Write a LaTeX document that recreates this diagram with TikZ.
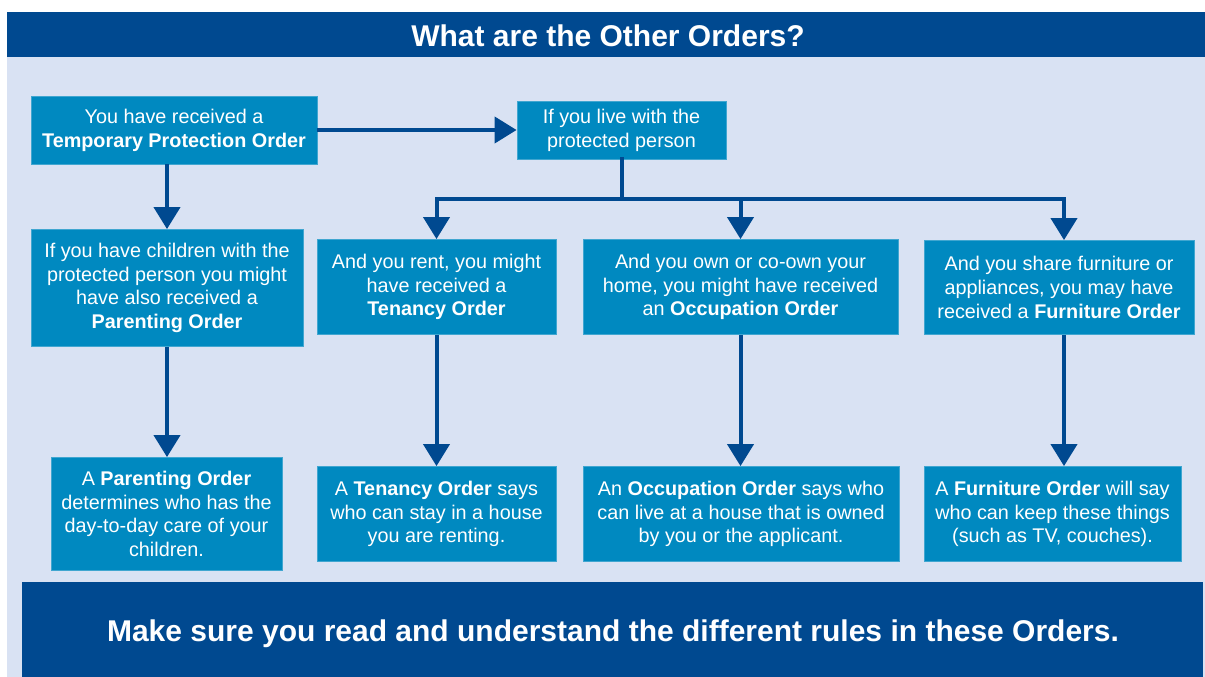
\documentclass[tikz,border=0pt]{standalone}
\usepackage{fontspec}
\setmainfont{Liberation Sans}
\usepackage{tikz}
\usetikzlibrary{positioning,arrows.meta,calc}
\definecolor{navy}{RGB}{0,73,144}
\definecolor{boxblue}{RGB}{0,137,192}
\definecolor{panel}{RGB}{217,226,243}
\tikzset{
  orderbox/.style={fill=boxblue, draw=boxblue!75!white, line width=0.8pt, text=white,
    align=center, inner sep=0pt, font=\fontsize{19.8}{23.8}\selectfont},
  flow/.style={draw=navy, line width=4pt, -{Triangle[width=26pt,length=22pt]}},
  banner/.style={text=white, font=\fontsize{30}{36}\selectfont\bfseries}
}

\begin{document}
\begin{tikzpicture}[x=1pt, y=-1pt]
    \useasboundingbox (0,0) rectangle (1205,677);
    \fill[panel] (7,57) rectangle (1205,677);
    \fill[navy] (7,12) rectangle (1205,57);
    \fill[navy] (22,582) rectangle (1203,677);
    \node[banner] (title) at (608,36) {What are the Other Orders?};
    \node[banner] (remind) at (613,634) {Make sure you read and understand the different rules in these Orders.};

    % first row
    \node[orderbox, minimum width=286pt, minimum height=68pt] (tpo) at (174,130)
      {You have received a\\\textbf{Temporary Protection Order}};
    \node[orderbox, minimum width=209pt, minimum height=58pt] (live) at (621.5,130)
      {If you live with the\\protected person};
    \coordinate[below=40pt of live.south] (split);

    % second row
    \node[orderbox, minimum width=272pt, minimum height=117pt] (par1) at (167,288)
      {If you have children with the\\protected person you might\\have also received a\\\textbf{Parenting Order}};
    \node[orderbox, minimum width=239pt, minimum height=95pt] (ten1) at (436.5,287)
      {And you rent, you might\\have received a\\\textbf{Tenancy Order}};
    \node[orderbox, minimum width=315pt, minimum height=95pt] (occ1) at (740.5,287)
      {And you own or co-own your\\home, you might have received\\an \textbf{Occupation Order}};
    \node[orderbox, minimum width=270pt, minimum height=94pt] (fur1) at (1059,287.5)
      {And you share furniture or\\appliances, you may have\\received a \textbf{Furniture Order}};

    % third row
    \node[orderbox, minimum width=231pt, minimum height=113pt] (par2) at (166.5,514)
      {A \textbf{Parenting Order}\\determines who has the\\day-to-day care of your\\children.};
    \node[orderbox, minimum width=239pt, minimum height=95pt] (ten2) at (436.5,514)
      {A \textbf{Tenancy Order} says\\who can stay in a house\\you are renting.};
    \node[orderbox, minimum width=316pt, minimum height=95pt] (occ2) at (741,514)
      {An \textbf{Occupation Order} says who\\can live at a house that is owned\\by you or the applicant.};
    \node[orderbox, minimum width=257pt, minimum height=95pt] (fur2) at (1052.5,514)
      {A \textbf{Furniture Order} will say\\who can keep these things\\(such as TV, couches).};

    \draw[flow] (tpo.east) -- (live.west);
    \draw[flow] (tpo.south -| par1.north) -- (par1.north);
    \draw[flow, -, line cap=rect] (live.south) -- (split);
    \draw[flow] (split) -| (ten1.north);
    \draw[flow] (split) -| (occ1.north);
    \draw[flow] (split) -| ([xshift=5pt]fur1.north);
    \draw[flow] (par1.south) -- (par1.south |- par2.north);
    \draw[flow] (ten1.south) -- (ten2.north);
    \draw[flow] (occ1.south) -- (occ1.south |- occ2.north);
    \draw[flow] ([xshift=5pt]fur1.south) -- ([xshift=5pt]fur1.south |- fur2.north);
\end{tikzpicture}
\end{document}
